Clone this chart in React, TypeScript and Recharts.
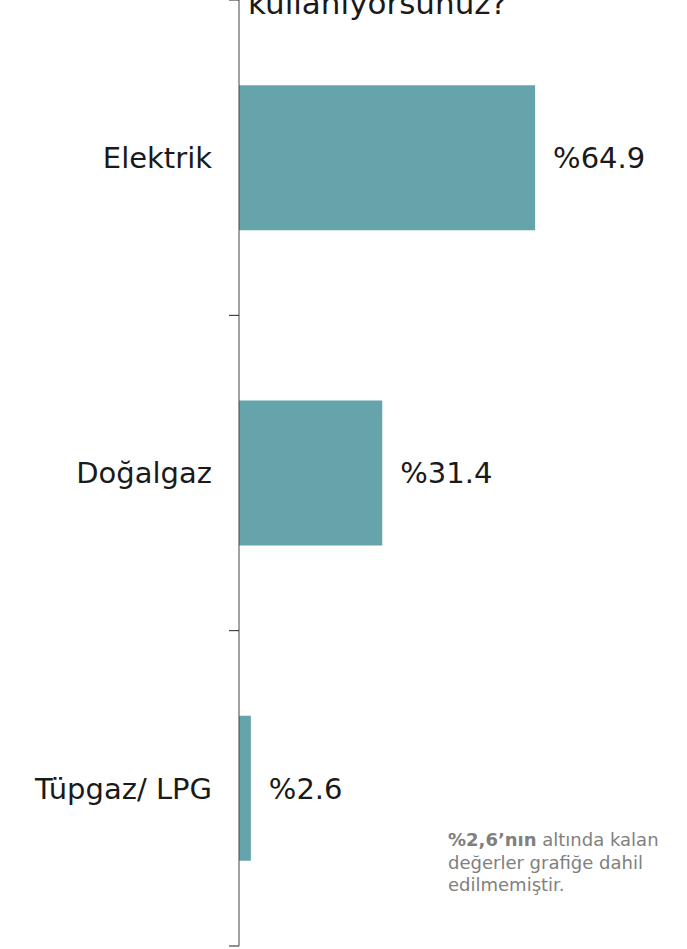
import React from "react";
import { BarChart, Bar, XAxis, YAxis, LabelList } from "recharts";

const categories = ["Elektrik", "Doğalgaz", "Tüpgaz/ LPG"];
const values = [64.9, 31.4, 2.6];
const titleLine = "kullanıyorsunuz?";
const noteBold = "%2,6’nın";
const noteRest = " altında kalan";
const noteLines = ["değerler grafiğe dahil", "edilmemiştir."];

const data = categories.map((name, i) => ({ name, value: values[i] }));

const FONT = "'DejaVu Sans', Verdana, sans-serif";
const TICK_MARGIN = 27;
const TICK_LEN = 10;

const CategoryTick = (props: any) => {
  const { x, y, payload, index, visibleTicksCount } = props;
  const half = payload && payload.offset ? payload.offset : 0;
  const axisX = x + TICK_MARGIN;
  const isLast = index === (visibleTicksCount ?? categories.length) - 1;
  return (
    <g>
      <text
        x={x}
        y={y}
        dy="0.355em"
        textAnchor="end"
        fontSize={29}
        fill="#1a1a1a"
        fontFamily={FONT}
      >
        {payload.value}
      </text>
      <line x1={axisX - TICK_LEN} x2={axisX} y1={y - half} y2={y - half} stroke="#222" strokeWidth={1} />
      {isLast && (
        <line x1={axisX - TICK_LEN} x2={axisX} y1={y + half} y2={y + half} stroke="#222" strokeWidth={1} />
      )}
    </g>
  );
};

export default function App() {
  return (
    <div style={{ position: "absolute", top: 0, left: 0, width: 687, height: 949, background: "#fff", fontFamily: FONT }}>
      <div
        style={{
          position: "absolute",
          left: 248,
          top: -15,
          fontSize: 31,
          lineHeight: "36px",
          color: "#1a1a1a",
          whiteSpace: "nowrap",
        }}
      >
        {titleLine}
      </div>
      <BarChart
        width={687}
        height={949}
        data={data}
        layout="vertical"
        margin={{ top: 0, right: 83, bottom: 3, left: 0 }}
        barCategoryGap="27%"
      >
        <XAxis type="number" domain={[0, 80]} hide />
        <YAxis
          type="category"
          dataKey="name"
          width={239}
          axisLine={{ stroke: "#444", strokeWidth: 1 }}
          tickLine={false}
          tickSize={0}
          tickMargin={TICK_MARGIN}
          interval={0}
          tick={CategoryTick}
        />
        <Bar dataKey="value" fill="#66A4AB" isAnimationActive={false}>
          <LabelList
            dataKey="value"
            position="right"
            offset={18}
            formatter={(v: any) => `%${v}`}
            style={{ fontSize: 29, fill: "#1a1a1a", fontFamily: FONT }}
          />
        </Bar>
      </BarChart>
      <div
        style={{
          position: "absolute",
          left: 448,
          top: 829,
          fontSize: 18,
          lineHeight: "22.5px",
          color: "#808080",
          whiteSpace: "nowrap",
        }}
      >
        <div>
          <b>{noteBold}</b>
          {noteRest}
        </div>
        {noteLines.map((l) => (
          <div key={l}>{l}</div>
        ))}
      </div>
    </div>
  );
}
